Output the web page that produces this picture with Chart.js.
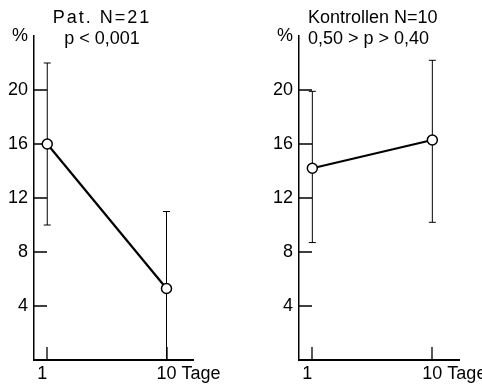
<!DOCTYPE html>
<html>
<head>
<meta charset="utf-8">
<script src="https://cdn.jsdelivr.net/npm/chart.js@4/dist/chart.umd.min.js"></script>
<style>
  body { margin: 0; background: #fff; }
  #wrap { position: relative; width: 482px; height: 386px; }
  canvas { position: absolute; top: 0; }
</style>
</head>
<body>
<div id="wrap">
  <canvas id="patChart" width="241" height="386" style="left:0"></canvas>
  <canvas id="konChart" width="241" height="386" style="left:241px"></canvas>
</div>
<script>
// Data
const days = [1, 10];
const xTickLabels = ['1', '10 Tage'];
const yTickValues = [4, 8, 12, 16, 20];
const yUnit = '%';
const yMax = 24;

const patTitle = ['Pat. N=21', 'p < 0,001'];
const patMean = [16, 5.3];
const patLow = [10, 0];
const patHigh = [22, 11];

const konTitle = ['Kontrollen N=10', '0,50 > p > 0,40'];
const konMean = [14.2, 16.3];
const konLow = [8.7, 10.2];
const konHigh = [19.9, 22.2];

const FONT = '"Liberation Sans", Arial, sans-serif';

// titles above each panel
const panelTitle = {
    id: 'panelTitle',
    afterDraw(chart, args, opts) {
        const ctx = chart.ctx;
        ctx.save();
        ctx.font = '18px ' + FONT;
        ctx.fillStyle = '#000';
        ctx.textAlign = opts.align;
        ctx.textBaseline = 'middle';
        opts.lines.forEach((t, i) => {
            ctx.letterSpacing = (opts.spacing && opts.spacing[i]) || '0px';
            ctx.fillText(t, opts.x, opts.y + i * 21);
        });
        ctx.restore();
    }
};

// short tick marks pointing into the plot
const innerTicks = {
    id: 'innerTicks',
    beforeDatasetsDraw(chart) {
        const ctx = chart.ctx;
        const x = chart.scales.x, y = chart.scales.y;
        const len = 13;
        ctx.save();
        ctx.strokeStyle = '#000';
        ctx.lineWidth = 1.3;
        ctx.beginPath();
        yTickValues.forEach(v => {
            const py = Math.round(y.getPixelForValue(v));
            ctx.moveTo(x.left, py);
            ctx.lineTo(x.left + len, py);
        });
        days.forEach(d => {
            const px = Math.round(x.getPixelForValue(d));
            ctx.moveTo(px, y.bottom);
            ctx.lineTo(px, y.bottom - len);
        });
        ctx.stroke();
        ctx.restore();
    }
};

function makePanel(id, title, mean, low, high, titleOpts, padLeft, padRight) {
    const errorSets = days.map((d, i) => ({
        data: [{ x: d, y: low[i] }, { x: d, y: high[i] }],
        borderColor: '#000',
        borderWidth: 1,
        pointStyle: 'line',
        pointRadius: 3.5,
        pointBorderWidth: 1,
        pointBorderColor: '#000',
        order: 1
    }));

    new Chart(document.getElementById(id), {
        type: 'line',
        data: {
            datasets: [{
                data: days.map((d, i) => ({ x: d, y: mean[i] })),
                borderColor: '#000',
                borderWidth: 2.2,
                pointRadius: 5,
                pointBackgroundColor: '#fff',
                pointBorderColor: '#000',
                pointBorderWidth: 1.5,
                order: 0
            }, ...errorSets]
        },
        options: {
            responsive: false,
            animation: false,
            layout: { padding: { left: padLeft, right: padRight, top: 36, bottom: 0 } },
            plugins: {
                legend: { display: false },
                tooltip: { enabled: false },
                panelTitle: Object.assign({ lines: title }, titleOpts)
            },
            scales: {
                x: {
                    type: 'linear',
                    min: 0,
                    max: 12,
                    offset: false,
                    afterFit: s => { s.height = 26; s.paddingLeft = 0; s.paddingRight = 0; },
                    afterBuildTicks: s => { s.ticks = days.map(v => ({ value: v })); },
                    border: { color: '#000', width: 2 },
                    grid: { drawOnChartArea: false, drawTicks: false },
                    ticks: {
                        color: '#000',
                        font: { family: FONT, size: 18 },
                        padding: 3,
                        align: 'start',
                        maxRotation: 0,
                        labelOffset: ctx => ctx.index === 0 ? -5 : -10,
                        callback: v => xTickLabels[days.indexOf(v)]
                    }
                },
                y: {
                    min: 0,
                    max: yMax,
                    afterFit: s => { s.width = 34; s.paddingTop = 0; s.paddingBottom = 0; },
                    afterBuildTicks: s => { s.ticks = yTickValues.concat([yMax]).map(v => ({ value: v })); },
                    border: { color: '#000', width: 1.5 },
                    grid: { drawOnChartArea: false, drawTicks: false },
                    ticks: {
                        color: '#000',
                        font: { family: FONT, size: 18 },
                        padding: 6,
                        callback: v => v === yMax ? yUnit : v
                    }
                }
            }
        },
        plugins: [innerTicks, panelTitle]
    });
}

makePanel('patChart', patTitle, patMean, patLow, patHigh, { align: 'center', x: 102, y: 18.5, spacing: ['2px', '0px'] }, 0, 48);
makePanel('konChart', konTitle, konMean, konLow, konHigh, { align: 'left', x: 67, y: 18.5 }, 24, 23);
</script>
</body>
</html>
